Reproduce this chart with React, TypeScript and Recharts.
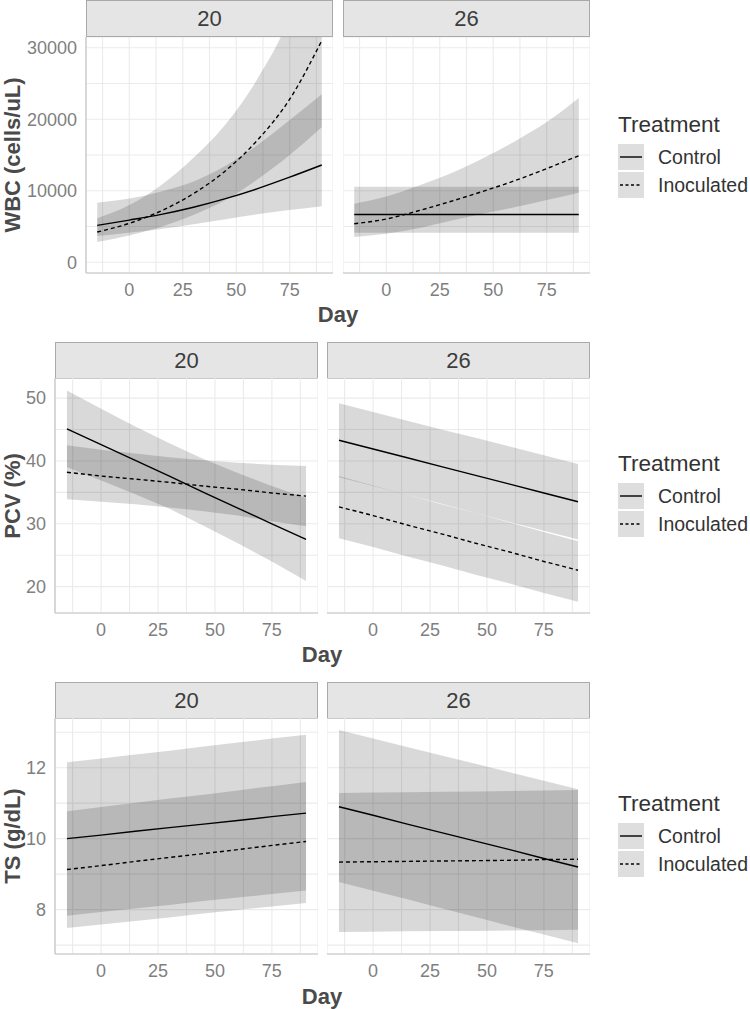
import React from "react";
import { ComposedChart, Area, Line, XAxis, YAxis, CartesianGrid } from "recharts";

const DAYS = [-15, 0, 15, 30, 45, 60, 75, 90];
const DAY_DOMAIN: [number, number] = [-20.25, 95.25];
const DAY_TICKS = [-12.5, 0, 12.5, 25, 37.5, 50, 62.5, 75, 87.5];
const DAY_LABELS = [0, 25, 50, 75];

// WBC (cells/uL), facet 20
const wbc20CtrlMean = [5160, 5900, 6700, 7700, 8900, 10300, 11900, 13600];
const wbc20CtrlLow = [3670, 4140, 4650, 5300, 6000, 6700, 7300, 7850];
const wbc20CtrlHigh = [8330, 8900, 9900, 11300, 13500, 16400, 19900, 23500];
const wbc20InocMean = [4230, 5440, 7200, 9600, 12800, 17100, 22800, 31000];
const wbc20InocLow = [2830, 3750, 4950, 6600, 8700, 11600, 15000, 18870];
const wbc20InocHigh = [6140, 8000, 10800, 14600, 19300, 25700, 34500, 50000];
// WBC, facet 26
const wbc26CtrlMean = [6690, 6690, 6690, 6690, 6690, 6690, 6690, 6690];
const wbc26CtrlLow = [4140, 4140, 4140, 4140, 4140, 4140, 4140, 4140];
const wbc26CtrlHigh = [10560, 10560, 10560, 10560, 10560, 10560, 10560, 10560];
const wbc26InocMean = [5390, 6050, 7200, 8500, 9900, 11400, 13100, 14900];
const wbc26InocLow = [3530, 3980, 4750, 5800, 6800, 7700, 8700, 9720];
const wbc26InocHigh = [8190, 9200, 10700, 12400, 14500, 16900, 19600, 22970];

// PCV (%), facet 20
const pcv20CtrlMean = [45.1, 42.6, 40.1, 37.6, 35.0, 32.5, 30.0, 27.5];
const pcv20CtrlLow = [39.0, 36.9, 34.7, 32.4, 29.7, 26.9, 24.0, 20.9];
const pcv20CtrlHigh = [51.2, 48.3, 45.5, 42.8, 40.3, 38.1, 36.0, 34.1];
const pcv20InocMean = [38.2, 37.6, 37.1, 36.6, 36.0, 35.5, 34.9, 34.4];
const pcv20InocLow = [33.9, 33.5, 33.1, 32.6, 32.0, 31.3, 30.4, 29.6];
const pcv20InocHigh = [42.5, 41.8, 41.2, 40.6, 40.1, 39.7, 39.4, 39.2];
// PCV, facet 26
const pcv26CtrlMean = [43.3, 41.9, 40.5, 39.1, 37.7, 36.3, 34.9, 33.5];
const pcv26CtrlLow = [37.4, 36.0, 34.6, 33.2, 31.7, 30.3, 28.9, 27.5];
const pcv26CtrlHigh = [49.2, 47.8, 46.4, 45.0, 43.7, 42.3, 40.9, 39.5];
const pcv26InocMean = [32.7, 31.3, 29.8, 28.4, 26.9, 25.5, 24.0, 22.6];
const pcv26InocLow = [27.7, 26.3, 24.8, 23.4, 21.9, 20.5, 19.0, 17.6];
const pcv26InocHigh = [37.6, 36.1, 34.6, 33.1, 31.7, 30.2, 28.7, 27.2];

// TS (g/dL), facet 20
const ts20CtrlMean = [10.0, 10.1, 10.21, 10.31, 10.41, 10.51, 10.62, 10.72];
const ts20CtrlLow = [7.83, 7.93, 8.03, 8.13, 8.24, 8.34, 8.44, 8.54];
const ts20CtrlHigh = [12.15, 12.26, 12.37, 12.48, 12.6, 12.71, 12.82, 12.93];
const ts20InocMean = [9.13, 9.24, 9.36, 9.47, 9.58, 9.69, 9.81, 9.92];
const ts20InocLow = [7.48, 7.58, 7.68, 7.78, 7.89, 7.99, 8.09, 8.19];
const ts20InocHigh = [10.77, 10.89, 11.01, 11.13, 11.24, 11.36, 11.48, 11.6];
// TS, facet 26
const ts26CtrlMean = [10.9, 10.66, 10.41, 10.17, 9.93, 9.69, 9.44, 9.2];
const ts26CtrlLow = [8.78, 8.53, 8.29, 8.04, 7.79, 7.54, 7.3, 7.05];
const ts26CtrlHigh = [13.06, 12.82, 12.58, 12.34, 12.11, 11.87, 11.63, 11.39];
const ts26InocMean = [9.34, 9.35, 9.36, 9.37, 9.38, 9.39, 9.41, 9.42];
const ts26InocLow = [7.37, 7.38, 7.39, 7.4, 7.4, 7.41, 7.42, 7.43];
const ts26InocHigh = [11.29, 11.3, 11.31, 11.32, 11.33, 11.34, 11.36, 11.37];

const FONT = '"Liberation Sans", Arial, sans-serif';
const X_AXIS_H = 34;
const Y_AXIS_W = 70;

function rows(cm: number[], cl: number[], ch: number[], im: number[], il: number[], ih: number[]) {
  return DAYS.map((day, i) => ({
    day,
    ctrl: cm[i],
    ctrlBand: [cl[i], ch[i]],
    inoc: im[i],
    inocBand: [il[i], ih[i]],
  }));
}

type PanelProps = {
  data: any[];
  left: number;
  top: number;
  width: number;
  height: number;
  yDomain: [number, number];
  yTicks: number[];
  yLabels: number[];
  showY: boolean;
  curve: "linear" | "monotone";
};

function Panel({ data, left, top, width, height, yDomain, yTicks, yLabels, showY, curve }: PanelProps) {
  const axisW = showY ? Y_AXIS_W : 0;
  return (
    <div style={{ position: "absolute", left: left - axisW, top }}>
      <ComposedChart
        width={width + axisW}
        height={height + X_AXIS_H}
        data={data}
        margin={{ top: 0, right: 0, bottom: 0, left: 0 }}
      >
        <CartesianGrid stroke="#ebebeb" strokeWidth={1.1} />
        <XAxis
          type="number"
          dataKey="day"
          domain={DAY_DOMAIN}
          ticks={DAY_TICKS}
          interval={0}
          allowDataOverflow
          height={X_AXIS_H}
          tickLine={false}
          tickSize={0}
          tickMargin={10}
          axisLine={{ stroke: "#c4c4c4", strokeWidth: 1.2 }}
          tick={{ fill: "#7f7f7f", fontSize: 18 }}
          tickFormatter={(v: number) => (DAY_LABELS.includes(v) ? String(v) : "")}
        />
        <YAxis
          type="number"
          domain={yDomain}
          ticks={yTicks}
          interval={0}
          allowDataOverflow
          hide={!showY}
          width={axisW}
          tickLine={false}
          tickSize={0}
          tickMargin={9}
          axisLine={{ stroke: "#c4c4c4", strokeWidth: 1.2 }}
          tick={{ fill: "#7f7f7f", fontSize: 18 }}
          tickFormatter={(v: number) => (yLabels.includes(v) ? String(v) : "")}
        />
        <Area
          type={curve}
          dataKey="ctrlBand"
          stroke="none"
          fill="#000"
          fillOpacity={0.15}
          isAnimationActive={false}
        />
        <Area
          type={curve}
          dataKey="inocBand"
          stroke="none"
          fill="#000"
          fillOpacity={0.15}
          isAnimationActive={false}
        />
        <Line
          type={curve}
          dataKey="ctrl"
          stroke="#000"
          strokeWidth={1.4}
          dot={false}
          isAnimationActive={false}
        />
        <Line
          type={curve}
          dataKey="inoc"
          stroke="#000"
          strokeWidth={1.4}
          strokeDasharray="4 3"
          dot={false}
          isAnimationActive={false}
        />
      </ComposedChart>
    </div>
  );
}

function Strip({ label, left, top, width }: { label: string; left: number; top: number; width: number }) {
  return (
    <div
      style={{
        position: "absolute",
        left,
        top,
        width,
        height: 37,
        boxSizing: "border-box",
        background: "#e5e5e5",
        border: "1px solid #a9a9a9",
        color: "#3d3d3d",
        fontSize: 22,
        lineHeight: "35px",
        textAlign: "center",
      }}
    >
      {label}
    </div>
  );
}

function Legend({ top }: { top: number }) {
  const key = (dash: string | undefined, label: string, y: number) => (
    <div style={{ position: "absolute", left: 0, top: y, height: 26, width: 140 }}>
      <svg width={26} height={26} style={{ position: "absolute", left: 0, top: 0 }}>
        <rect width={26} height={26} fill="#dedede" />
        <line x1={2} x2={24} y1={13} y2={13} stroke="#000" strokeWidth={1.4} strokeDasharray={dash} />
      </svg>
      <div style={{ position: "absolute", left: 40, top: 0, lineHeight: "26px", fontSize: 19.5, color: "#333" }}>
        {label}
      </div>
    </div>
  );
  return (
    <div style={{ position: "absolute", left: 618, top, width: 140, height: 100 }}>
      <div style={{ position: "absolute", left: 0, top: 0, fontSize: 22.5, color: "#333", lineHeight: "26px" }}>
        Treatment
      </div>
      {key(undefined, "Control", 32)}
      {key("3 2.5", "Inoculated", 60)}
    </div>
  );
}

function YTitle({ text, y }: { text: string; y: number }) {
  return (
    <div
      style={{
        position: "absolute",
        left: 13,
        top: y,
        transform: "translate(-50%, -50%) rotate(-90deg)",
        whiteSpace: "nowrap",
        fontWeight: "bold",
        fontSize: 22,
        color: "#4a4a4a",
      }}
    >
      {text}
    </div>
  );
}

function XTitle({ x, y }: { x: number; y: number }) {
  return (
    <div
      style={{
        position: "absolute",
        left: x,
        top: y,
        transform: "translate(-50%, -50%)",
        fontWeight: "bold",
        fontSize: 22,
        color: "#4a4a4a",
      }}
    >
      Day
    </div>
  );
}

export default function App() {
  const wbc20 = rows(wbc20CtrlMean, wbc20CtrlLow, wbc20CtrlHigh, wbc20InocMean, wbc20InocLow, wbc20InocHigh);
  const wbc26 = rows(wbc26CtrlMean, wbc26CtrlLow, wbc26CtrlHigh, wbc26InocMean, wbc26InocLow, wbc26InocHigh);
  const pcv20 = rows(pcv20CtrlMean, pcv20CtrlLow, pcv20CtrlHigh, pcv20InocMean, pcv20InocLow, pcv20InocHigh);
  const pcv26 = rows(pcv26CtrlMean, pcv26CtrlLow, pcv26CtrlHigh, pcv26InocMean, pcv26InocLow, pcv26InocHigh);
  const ts20 = rows(ts20CtrlMean, ts20CtrlLow, ts20CtrlHigh, ts20InocMean, ts20InocLow, ts20InocHigh);
  const ts26 = rows(ts26CtrlMean, ts26CtrlLow, ts26CtrlHigh, ts26InocMean, ts26InocLow, ts26InocHigh);

  const wbcTicks = [0, 5000, 10000, 15000, 20000, 25000, 30000];
  const wbcLabels = [0, 10000, 20000, 30000];
  const pcvTicks = [20, 25, 30, 35, 40, 45, 50];
  const pcvLabels = [20, 30, 40, 50];
  const tsTicks = [7, 8, 9, 10, 11, 12, 13];
  const tsLabels = [8, 10, 12];

  return (
    <div
      style={{
        position: "absolute",
        left: 0,
        top: 0,
        width: 750,
        height: 1009,
        background: "#fff",
        fontFamily: FONT,
        overflow: "hidden",
      }}
    >
      {/* WBC */}
      <Strip label="20" left={86} top={0} width={247} />
      <Strip label="26" left={343} top={0} width={247} />
      <Panel data={wbc20} left={86} top={37} width={247} height={236} yDomain={[-1500, 31500]} yTicks={wbcTicks} yLabels={wbcLabels} showY curve="monotone" />
      <Panel data={wbc26} left={343} top={37} width={247} height={236} yDomain={[-1500, 31500]} yTicks={wbcTicks} yLabels={wbcLabels} showY={false} curve="monotone" />
      <YTitle text="WBC (cells/uL)" y={155} />
      <XTitle x={338} y={315} />
      <Legend top={112} />

      {/* PCV */}
      <Strip label="20" left={55} top={342} width={263} />
      <Strip label="26" left={327} top={342} width={263} />
      <Panel data={pcv20} left={55} top={378} width={263} height={235} yDomain={[15.8, 53.2]} yTicks={pcvTicks} yLabels={pcvLabels} showY curve="linear" />
      <Panel data={pcv26} left={327} top={378} width={263} height={235} yDomain={[15.8, 53.2]} yTicks={pcvTicks} yLabels={pcvLabels} showY={false} curve="linear" />
      <YTitle text="PCV (%)" y={496} />
      <XTitle x={322} y={655} />
      <Legend top={451} />

      {/* TS */}
      <Strip label="20" left={55} top={682} width={263} />
      <Strip label="26" left={327} top={682} width={263} />
      <Panel data={ts20} left={55} top={718} width={263} height={236} yDomain={[6.75, 13.4]} yTicks={tsTicks} yLabels={tsLabels} showY curve="linear" />
      <Panel data={ts26} left={327} top={718} width={263} height={236} yDomain={[6.75, 13.4]} yTicks={tsTicks} yLabels={tsLabels} showY={false} curve="linear" />
      <YTitle text="TS (g/dL)" y={836} />
      <XTitle x={322} y={997} />
      <Legend top={791} />
    </div>
  );
}
